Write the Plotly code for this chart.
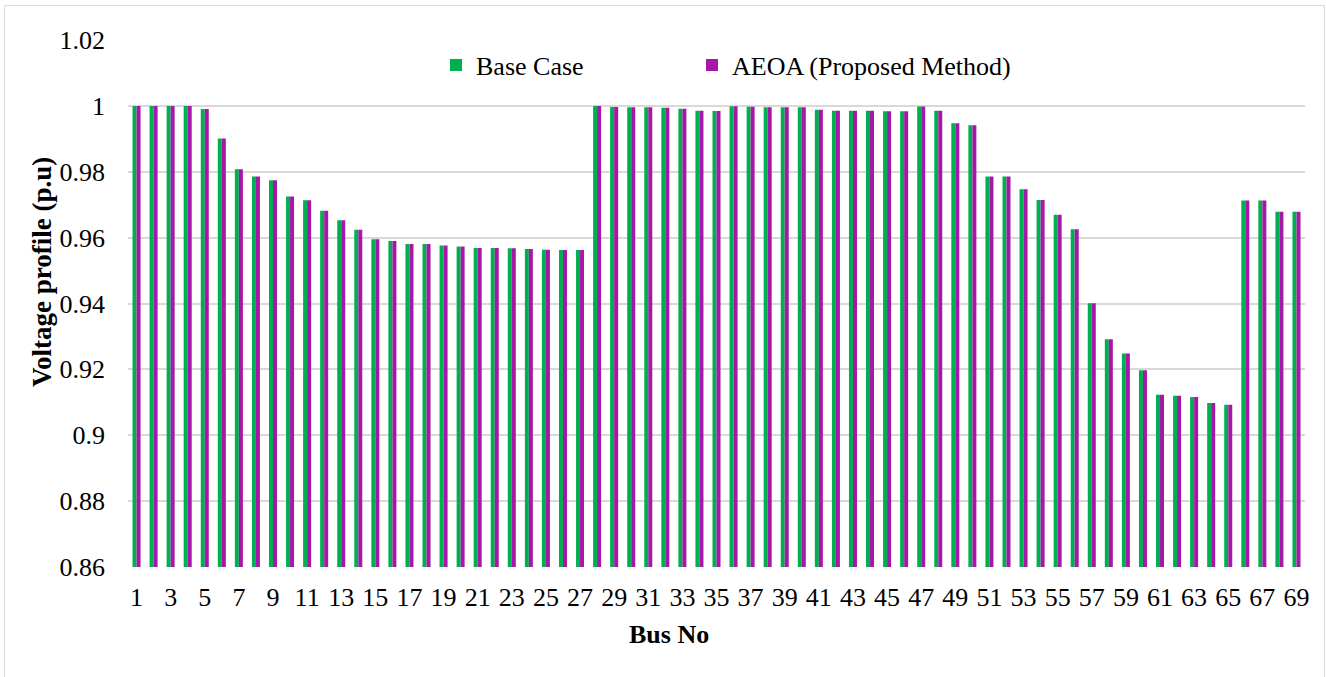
import plotly.graph_objects as go

# Bus numbers of the 69-bus feeder
buses = list(range(1, 70))

# Bus voltage magnitudes (p.u) before optimisation
base_case = [
    1.0000, 1.0000, 0.99997, 0.99993, 0.99902, 0.99009, 0.98079, 0.97858, 0.97745, 0.97245,
    0.97135, 0.96819, 0.96526, 0.96237, 0.95948, 0.95896, 0.95809, 0.95808, 0.95762, 0.95732,
    0.95684, 0.95683, 0.95676, 0.95656, 0.95634, 0.95625, 0.95622, 0.99993, 0.99963, 0.99961,
    0.99957, 0.99943, 0.99914, 0.99851, 0.99843, 0.99992, 0.99975, 0.99958, 0.99955, 0.99955,
    0.99884, 0.99855, 0.99851, 0.99850, 0.99840, 0.99840, 0.99979, 0.99854, 0.99470, 0.99415,
    0.97854, 0.97853, 0.97466, 0.97142, 0.96695, 0.96258, 0.94011, 0.92914, 0.92484, 0.91975,
    0.91228, 0.91199, 0.91161, 0.90981, 0.90925, 0.97129, 0.97129, 0.96786, 0.96786,
]

# Bus voltage magnitudes (p.u) with the AEOA solution
aeoa = [
    1.0000, 1.0000, 0.99997, 0.99993, 0.99902, 0.99009, 0.98079, 0.97858, 0.97745, 0.97245,
    0.97135, 0.96819, 0.96526, 0.96237, 0.95948, 0.95896, 0.95809, 0.95808, 0.95762, 0.95732,
    0.95684, 0.95683, 0.95676, 0.95656, 0.95634, 0.95625, 0.95622, 0.99993, 0.99963, 0.99961,
    0.99957, 0.99943, 0.99914, 0.99851, 0.99843, 0.99992, 0.99975, 0.99958, 0.99955, 0.99955,
    0.99884, 0.99855, 0.99851, 0.99850, 0.99840, 0.99840, 0.99979, 0.99854, 0.99470, 0.99415,
    0.97854, 0.97853, 0.97466, 0.97142, 0.96695, 0.96258, 0.94011, 0.92914, 0.92484, 0.91975,
    0.91228, 0.91199, 0.91161, 0.90981, 0.90925, 0.97129, 0.97129, 0.96786, 0.96786,
]

x_ticks = list(range(1, 70, 2))
y_ticks = [0.86, 0.88, 0.90, 0.92, 0.94, 0.96, 0.98, 1.00, 1.02]
y_tick_text = ["0.86", "0.88", "0.9", "0.92", "0.94", "0.96", "0.98", "1", "1.02"]

GREEN = "#00B050"
PURPLE = "#A818A8"
GRID = "#D9D9D9"
FONT = "Liberation Serif"

W, H = 1326, 677
ML, MR, MT, MB = 128, 21, 40, 110
PW, PH = W - ML - MR, H - MT - MB

def px_x(p):
    return (p - ML) / PW

def px_y(p):
    return (H - MB - p) / PH

legend_style = dict(
    orientation="h", xanchor="left", yanchor="middle", y=px_y(65),
    font=dict(family=FONT, size=26, color="black"),
    bgcolor="rgba(0,0,0,0)", borderwidth=0, itemwidth=30,
)

fig = go.Figure()
fig.add_trace(go.Bar(x=buses, y=base_case, name="Base Case", marker_color=GREEN,
                     marker_line_width=0, legend="legend"))
fig.add_trace(go.Bar(x=buses, y=aeoa, name="AEOA (Proposed Method)", marker_color=PURPLE,
                     marker_line_width=0, legend="legend2"))

fig.update_layout(
    width=W, height=H,
    margin=dict(l=ML, r=MR, t=MT, b=MB),
    paper_bgcolor="white", plot_bgcolor="white",
    barmode="group", bargap=0.53, bargroupgap=0,
    font=dict(family=FONT, size=26, color="black"),
    showlegend=True,
    legend=dict(legend_style, x=px_x(436)),
    legend2=dict(legend_style, x=px_x(692)),
    xaxis=dict(
        range=[0.5, 69.5], tickmode="array", tickvals=x_ticks,
        ticktext=[str(v) for v in x_ticks], showgrid=False, zeroline=False,
        showline=False, ticks="", ticklabelstandoff=12,
        tickfont=dict(family=FONT, size=26, color="black"),
    ),
    yaxis=dict(
        range=[0.86, 1.02], tickmode="array", tickvals=y_ticks, ticktext=y_tick_text,
        showgrid=True, gridcolor=GRID, gridwidth=1.5, zeroline=False, showline=False,
        ticks="", ticklabelstandoff=22,
        tickfont=dict(family=FONT, size=26, color="black"),
    ),
    annotations=[
        dict(text="<b>Bus No</b>", xref="paper", yref="paper", x=px_x(669), y=px_y(635),
             xanchor="center", yanchor="middle", showarrow=False,
             font=dict(family=FONT, size=26, color="black")),
        dict(text="<b>Voltage profile (p.u)</b>", xref="paper", yref="paper",
             x=px_x(42), y=px_y(272), xanchor="center", yanchor="middle", textangle=-90,
             showarrow=False, font=dict(family=FONT, size=27, color="black")),
    ],
    shapes=[
        dict(type="rect", xref="paper", yref="paper", x0=px_x(4.5), x1=px_x(1324.5),
             y0=px_y(690), y1=px_y(5.5), line=dict(color=GRID, width=1), layer="below"),
    ],
)

fig.write_html("out.html")
